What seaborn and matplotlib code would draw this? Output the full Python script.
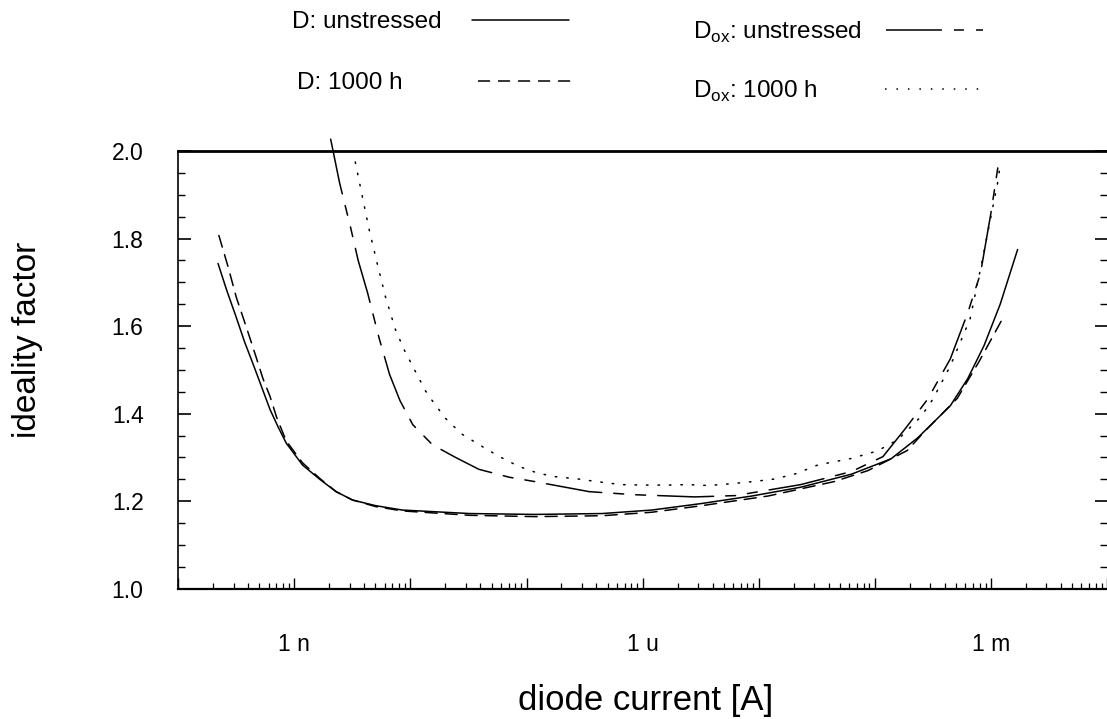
import matplotlib
matplotlib.use("Agg")
import matplotlib.pyplot as plt
import numpy as np
import pandas as pd
import seaborn as sns
from matplotlib.lines import Line2D
from matplotlib.ticker import FixedLocator, FixedFormatter, LogLocator, MultipleLocator, NullFormatter

# ---------------- data ----------------
# currents are given as log10(I / A); ideality factors
series_names = ["D: unstressed", "D: 1000 h",
                "D$_\\mathregular{ox}$: unstressed", "D$_\\mathregular{ox}$: 1000 h"]

d_unstressed_logI = [-9.657, -9.58, -9.50, -9.43, -9.356, -9.28, -9.21, -9.14, -9.07, -8.93,
                     -8.78, -8.64, -8.50, -8.30, -8.07, -7.49, -6.93, -6.35, -5.92, -5.49,
                     -5.06, -4.64, -4.20, -3.86, -3.63, -3.35, -3.20, -3.06, -2.92, -2.77]
d_unstressed_n = [1.743, 1.680, 1.620, 1.565, 1.514, 1.460, 1.410, 1.370, 1.333, 1.283,
                  1.250, 1.222, 1.203, 1.190, 1.180, 1.172, 1.170, 1.172, 1.180, 1.195,
                  1.212, 1.232, 1.262, 1.297, 1.345, 1.418, 1.480, 1.555, 1.650, 1.775]

d_1000h_logI = [-9.65, -9.57, -9.50, -9.41, -9.33, -9.27, -9.21, -9.15, -9.07, -8.93,
                -8.78, -8.64, -8.50, -8.30, -8.07, -7.49, -6.93, -6.35, -5.92, -5.49,
                -4.92, -4.35, -4.06, -3.72, -3.58, -3.29, -3.10, -2.90]
d_1000h_n = [1.807, 1.735, 1.666, 1.595, 1.530, 1.480, 1.440, 1.390, 1.338, 1.288,
             1.252, 1.222, 1.203, 1.188, 1.178, 1.168, 1.165, 1.167, 1.175, 1.190,
             1.212, 1.245, 1.270, 1.316, 1.357, 1.435, 1.520, 1.617]

dox_unstressed_logI = [-8.687, -8.61, -8.515, -8.45, -8.37, -8.27, -8.18, -8.09, -7.98, -7.81,
                       -7.61, -7.41, -7.15, -6.93, -6.46, -6.07, -5.55, -5.20, -4.64, -4.20,
                       -3.93, -3.74, -3.545, -3.35, -3.20, -3.09, -3.00, -2.93]
dox_unstressed_n = [2.027, 1.927, 1.825, 1.750, 1.677, 1.573, 1.490, 1.430, 1.375, 1.329,
                    1.300, 1.273, 1.255, 1.245, 1.222, 1.215, 1.210, 1.213, 1.238, 1.268,
                    1.302, 1.365, 1.433, 1.525, 1.630, 1.720, 1.858, 1.980]

dox_1000h_logI = [-8.475, -8.415, -8.355, -8.286, -8.215, -8.129, -8.052, -7.96, -7.87, -7.81,
                  -7.70, -7.56, -7.40, -7.24, -7.07, -6.90, -6.747, -6.558, -6.367, -6.18,
                  -5.994, -5.80, -5.61, -5.43, -5.24, -5.05, -4.86, -4.68, -4.49, -4.20,
                  -3.977, -3.80, -3.60, -3.50, -3.35, -3.18, -3.09, -3.00, -2.94, -2.92]
dox_1000h_n = [1.975, 1.897, 1.820, 1.743, 1.667, 1.592, 1.545, 1.498, 1.452, 1.429,
               1.390, 1.354, 1.328, 1.303, 1.280, 1.264, 1.256, 1.251, 1.244, 1.238,
               1.237, 1.237, 1.238, 1.236, 1.240, 1.245, 1.251, 1.263, 1.283, 1.298,
               1.315, 1.341, 1.394, 1.433, 1.509, 1.616, 1.730, 1.850, 1.930, 1.970]

x_major_ticks = [1e-10, 1e-9, 1e-8, 1e-7, 1e-6, 1e-5, 1e-4, 1e-3, 1e-2]
x_tick_labels = ["", "1 n", "", "", "1 u", "", "", "1 m", ""]
y_major_ticks = [1.0, 1.2, 1.4, 1.6, 1.8, 2.0]
y_tick_labels = ["1.0", "1.2", "1.4", "1.6", "1.8", "2.0"]

# ---------------- styling ----------------
sns.set_style("white")
plt.rcParams["font.family"] = ["Liberation Sans", "DejaVu Sans"]
plt.rcParams["mathtext.fontset"] = "custom"
plt.rcParams["mathtext.rm"] = "Liberation Sans"
for k in ["text.color", "axes.labelcolor", "xtick.color", "ytick.color", "axes.edgecolor"]:
    plt.rcParams[k] = "black"

LW = 1.1
dash_map = {
    series_names[0]: "",
    series_names[1]: (7.9, 5.2),
    series_names[2]: (36.6, 7.9, 6.5, 7.9, 6.5, 7.9),
    series_names[3]: (1.0, 6.5),
}

pairs = [(d_unstressed_logI, d_unstressed_n), (d_1000h_logI, d_1000h_n),
         (dox_unstressed_logI, dox_unstressed_n), (dox_1000h_logI, dox_1000h_n)]
df = pd.concat([pd.DataFrame({"current": np.power(10.0, np.asarray(lx)), "n": ny, "series": name})
                for name, (lx, ny) in zip(series_names, pairs)], ignore_index=True)

fig = plt.figure(figsize=(11.07, 7.19), dpi=100)
ax = fig.add_axes([0.161, 0.181, 0.839, 0.609])

sns.lineplot(data=df, x="current", y="n", style="series", style_order=series_names,
             dashes=dash_map, color="black", linewidth=LW, estimator=None, sort=False,
             legend=False, ax=ax)
for ln in ax.lines:
    ln.set_clip_on(False)
    ln.set_dash_capstyle("round")
    ln.set_solid_joinstyle("round")

ax.set_xscale("log")
ax.set_xlim(1e-10, 1e-2)
ax.set_ylim(1.0, 2.0)

ax.xaxis.set_major_locator(FixedLocator(x_major_ticks))
ax.xaxis.set_major_formatter(FixedFormatter(x_tick_labels))
ax.xaxis.set_minor_locator(LogLocator(base=10, subs=[2, 3, 4, 5, 6, 7, 8, 9], numticks=20))
ax.xaxis.set_minor_formatter(NullFormatter())
ax.yaxis.set_major_locator(FixedLocator(y_major_ticks))
ax.yaxis.set_major_formatter(FixedFormatter(y_tick_labels))
ax.yaxis.set_minor_locator(MultipleLocator(0.05))

ax.tick_params(axis="x", which="major", direction="in", length=8, width=1.0, pad=32, labelsize=16.5,
               bottom=True, top=False)
ax.tick_params(axis="x", which="minor", direction="in", length=4, width=0.9, bottom=True, top=False)
ax.tick_params(axis="y", which="major", direction="in", length=9, width=1.2, pad=25, labelsize=16.5,
               left=True, right=True)
ax.tick_params(axis="y", which="minor", direction="in", length=5, width=1.0, left=True, right=True)

ax.spines["right"].set_visible(False)
ax.spines["top"].set_linewidth(2.0)
ax.spines["left"].set_linewidth(1.2)
ax.spines["bottom"].set_linewidth(1.6)

ax.set_xlabel("diode current [A]", fontsize=25)
ax.set_ylabel("ideality factor", fontsize=24)
ax.xaxis.set_label_coords(0.503, -0.218)
ax.yaxis.set_label_coords(-0.146, 0.568)

# ---------------- legend (label first, line after) ----------------
legend_layout = [
    # (anchor x, anchor y, handletextpad)
    (0.264, 0.969, 1.25),
    (0.268, 0.884, 3.1),
    (0.626, 0.955, 1.0),
    (0.626, 0.873, 2.8),
]
for name, (lx, ly, pad) in zip(series_names, legend_layout):
    handle = Line2D([], [], color="black", linewidth=LW,
                    linestyle="-" if dash_map[name] == "" else (0, dash_map[name]))
    fig.legend(handles=[handle], labels=[name], loc="center left",
               bbox_to_anchor=(lx, ly), frameon=False, markerfirst=False,
               handlelength=4.0, handletextpad=pad, borderpad=0, borderaxespad=0,
               fontsize=17.5)

fig.savefig("out.png", dpi=100, facecolor="white")
